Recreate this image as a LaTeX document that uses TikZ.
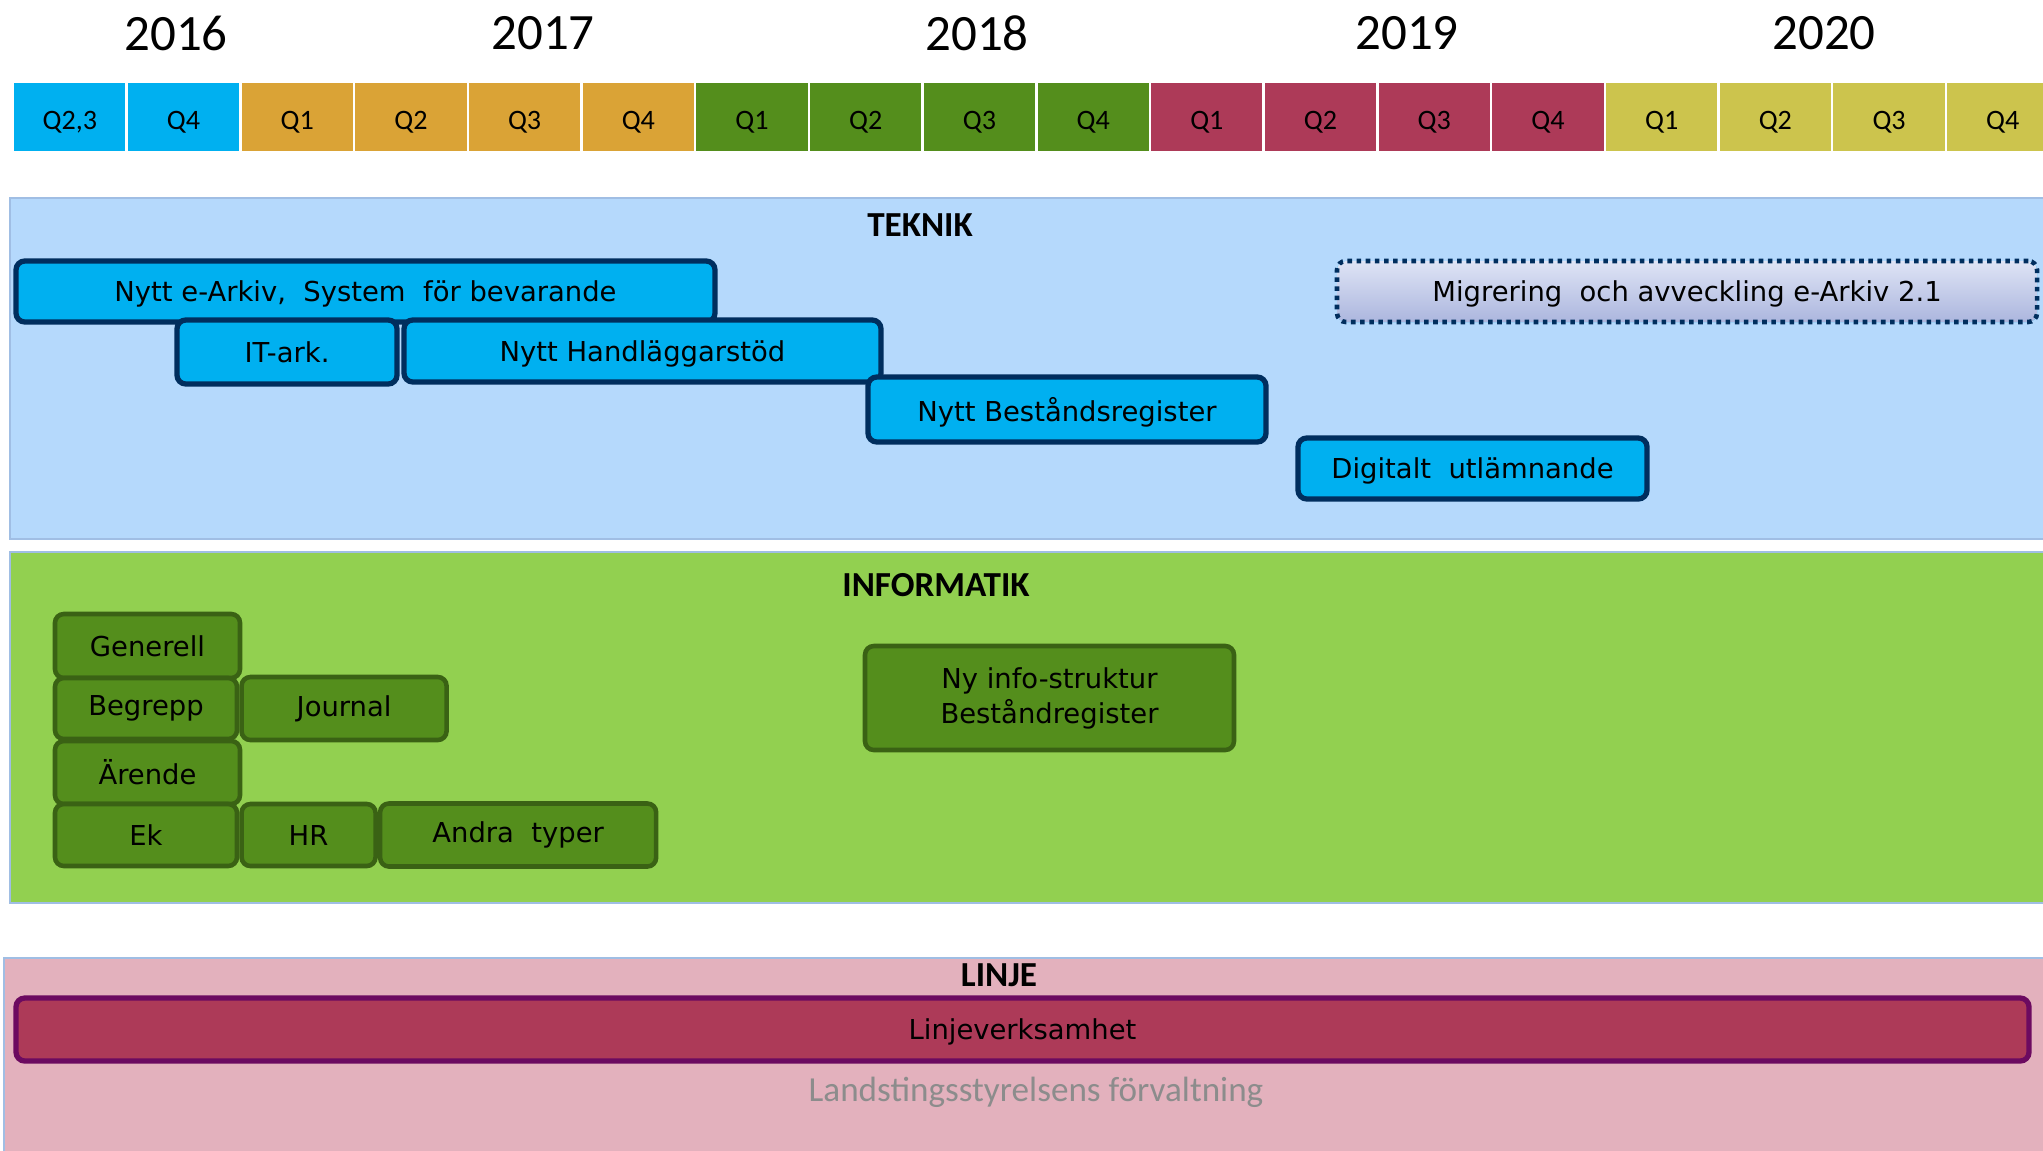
\documentclass[tikz,border=0pt]{standalone}
\usepackage{fontspec}
\setmainfont{Carlito}
\newfontfamily\barfont{DejaVu Sans}
\usetikzlibrary{positioning}

\definecolor{qcyan}{RGB}{0,176,240}
\definecolor{qgold}{RGB}{218,163,54}
\definecolor{qgreen}{RGB}{84,142,28}
\definecolor{qred}{RGB}{173,58,88}
\definecolor{qyellow}{RGB}{204,196,77}
\definecolor{tpanel}{RGB}{181,217,252}
\definecolor{ipanel}{RGB}{146,208,80}
\definecolor{lpanel}{RGB}{227,177,189}
\definecolor{panelline}{RGB}{160,190,228}
\definecolor{tnavy}{RGB}{0,46,94}
\definecolor{igreendark}{RGB}{58,98,20}
\definecolor{lpurple}{RGB}{108,10,96}
\definecolor{mtop}{RGB}{222,228,245}
\definecolor{mbottom}{RGB}{172,182,222}
\definecolor{greytext}{RGB}{140,140,140}

\begin{document}
\begin{tikzpicture}[x=0.1mm, y=-0.1mm,
    year/.style={font=\fontsize{14.5}{16}\selectfont},
    quarter/.style={rectangle, draw=white, line width=0.25mm, inner sep=0pt,
    text height=7pt, text depth=0pt,
    minimum width=11.37mm, minimum height=7mm, font=\fontsize{8}{9}\selectfont},
    panel/.style={draw=panelline, line width=0.4pt},
    title/.style={font=\fontsize{10}{12}\selectfont\bfseries},
    tbar/.style={rectangle, rounded corners=2.5pt, fill=qcyan, draw=tnavy, line width=1.5pt,
    inner sep=0pt, text depth=0pt, font=\barfont\fontsize{7.8}{10}\selectfont},
    ibox/.style={rectangle, rounded corners=2.5pt, fill=qgreen, draw=igreendark, line width=1.3pt,
    inner sep=0pt, font=\barfont\fontsize{7.8}{10}\selectfont, align=center}]

    \useasboundingbox (0,0) rectangle (2043,1150);
    \clip (0,0) rectangle (2043,1150);

    % years and quarters
    \node (y2016) [year] at (176,33) {2016};
    \node (y2017) [year] at (543,33) {2017};
    \node (y2018) [year] at (977,33) {2018};
    \node (y2019) [year] at (1407,33) {2019};
    \node (y2020) [year] at (1824,33) {2020};

    \foreach \lab/\col [count=\i from 0] in {Q2{,}3/qcyan, Q4/qcyan,
        Q1/qgold, Q2/qgold, Q3/qgold, Q4/qgold,
        Q1/qgreen, Q2/qgreen, Q3/qgreen, Q4/qgreen,
        Q1/qred, Q2/qred, Q3/qred, Q4/qred,
        Q1/qyellow, Q2/qyellow, Q3/qyellow, Q4/qyellow}
        \node (q\i) [quarter, fill=\col] at ({69.85+\i*113.7},117) {\lab};

    % panels
    \draw [panel, fill=tpanel] (10,198) rectangle (2070,539);
    \draw [panel, fill=ipanel] (10,552) rectangle (2070,903);
    \draw [panel, fill=lpanel] (4,958) rectangle (2070,1170);

    \node (teknik) [title] at (920,225) {TEKNIK};
    \node (informatik) [title] at (936,585) {INFORMATIK};
    \node (linje) [title] at (999,975) {LINJE};

    % teknik
    \node (earkiv) [tbar, minimum width=69.9mm, minimum height=6.1mm] at (365.5,291.5)
        {Nytt e-Arkiv,\ \ System\ \ för bevarande};
    \node (itark) [tbar, minimum width=22mm, minimum height=6.4mm] at (287,352) {IT-ark.};
    \node (handl) [tbar, minimum width=47.7mm, minimum height=6.2mm] at (642.5,351)
        {Nytt Handläggarstöd};
    \node (bestand) [tbar, minimum width=39.8mm, minimum height=6.5mm] at (1067,409.5)
        {Nytt Beståndsregister};
    \node (digital) [tbar, minimum width=34.9mm, minimum height=6.1mm] at (1472.5,468.5)
        {Digitalt\ \ utlämnande};
    \node (migrering) [tbar, top color=mtop, bottom color=mbottom, line width=1.3pt,
        dash pattern=on 1.3pt off 1.3pt, minimum width=70mm, minimum height=6.1mm] at (1687,291.5)
        {Migrering\ \ och avveckling e-Arkiv 2.1};

    % informatik
    \node (generell) [ibox, minimum width=18.5mm, minimum height=6.4mm] at (147.5,646) {Generell};
    \node (begrepp) [ibox, minimum width=18.2mm, minimum height=6.1mm] at (146,708.5) {Begrepp};
    \node (journal) [ibox, minimum width=20.5mm, minimum height=6.3mm, right=0pt of begrepp] {Journal};
    \node (arende) [ibox, minimum width=18.5mm, minimum height=6.3mm] at (147.5,772.5) {Ärende};
    \node (ek) [ibox, minimum width=18.2mm, minimum height=6.2mm] at (146,835) {Ek};
    \node (hr) [ibox, minimum width=13.4mm, minimum height=6.2mm, right=0pt of ek] {HR};
    \node (andra) [ibox, minimum width=27.6mm, minimum height=6.3mm, right=0pt of hr] {Andra\ \ typer};
    \node (nyinfo) [ibox, minimum width=36.9mm, minimum height=10.4mm] at (1049.5,698)
        {Ny info-struktur\\Beståndregister};

    % linje
    \node (linjeverk) [tbar, fill=qred, draw=lpurple, minimum width=201.3mm, minimum height=6.3mm]
        at (1022.5,1029.5) {Linjeverksamhet};
    \node (forvaltning) [font=\fontsize{10}{12}\selectfont, text=greytext] at (1036,1092)
        {Landstingsstyrelsens förvaltning};
\end{tikzpicture}
\end{document}
